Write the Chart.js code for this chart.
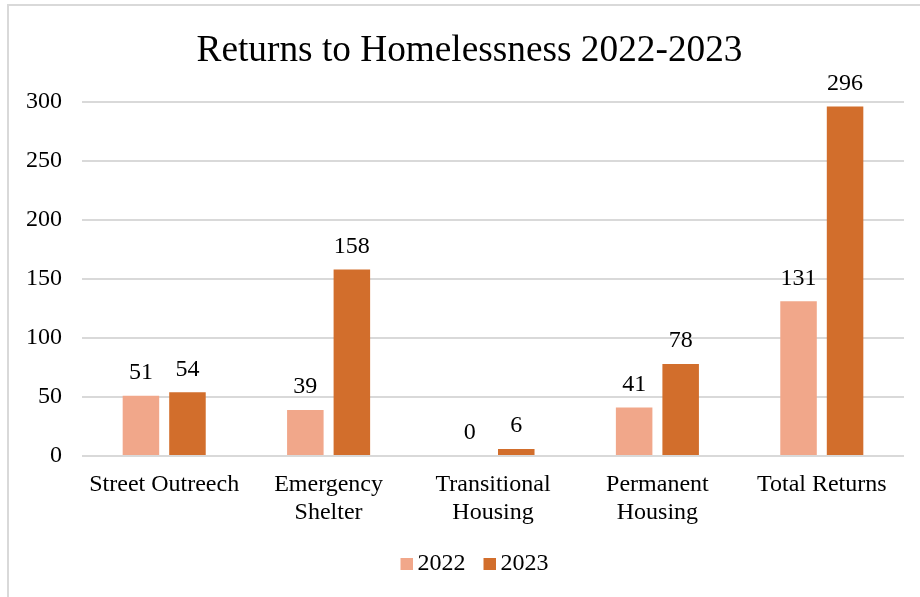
<!DOCTYPE html>
<html>
<head>
<meta charset="utf-8">
<script src="https://cdn.jsdelivr.net/npm/chart.js@4/dist/chart.umd.min.js"></script>
<style>
  html, body { margin: 0; padding: 0; background: #fff; }
  #wrap { position: relative; width: 920px; height: 597px; overflow: hidden; }
  #frame { position: absolute; left: 7px; top: 4px; width: 940px; height: 620px;
           border: 2px solid #D9D9D9; box-sizing: border-box; }
  #c { position: absolute; left: 0; top: 0; }
</style>
</head>
<body>
<div id="wrap">
  <div id="frame"></div>
  <canvas id="c" width="920" height="597"></canvas>
</div>
<script>
const categories = [
  ["Street Outreech"],
  ["Emergency", "Shelter"],
  ["Transitional", "Housing"],
  ["Permanent", "Housing"],
  ["Total Returns"]
];
const seriesNames = ["2022", "2023"];
const values2022 = [51, 39, 0, 41, 131];
const values2023 = [54, 158, 6, 78, 296];
const yTicks = [0, 50, 100, 150, 200, 250, 300];
const seriesColors = ['#F1A78A', '#D26E2C'];

const serif = "'Liberation Serif', 'Times New Roman', serif";

// Legend swatch: a 12px square sitting at the right end of a small canvas,
// so the square ends up close to its label text
function swatch(color) {
  const c = document.createElement('canvas');
  c.width = 29; c.height = 12;
  const g = c.getContext('2d');
  g.fillStyle = color;
  g.fillRect(17, 0, 12, 12);
  return c;
}
const swatches = seriesColors.map(swatch);

// Writes each bar's value just above it
const valueLabels = {
  id: 'valueLabels',
  afterDatasetsDraw(chart) {
    const ctx = chart.ctx;
    ctx.save();
    ctx.font = "24px " + serif;
    ctx.fillStyle = "#000";
    ctx.textAlign = "center";
    ctx.textBaseline = "middle";
    chart.data.datasets.forEach((ds, i) => {
      chart.getDatasetMeta(i).data.forEach((bar, j) => {
        ctx.fillText(String(ds.data[j]), bar.x, bar.y - 23);
      });
    });
    ctx.restore();
  }
};

new Chart(document.getElementById('c'), {
  type: 'bar',
  data: {
    labels: categories,
    datasets: [
      { label: seriesNames[0], data: values2022, backgroundColor: seriesColors[0],
        categoryPercentage: 0.566, barPercentage: 0.785 },
      { label: seriesNames[1], data: values2023, backgroundColor: seriesColors[1],
        categoryPercentage: 0.566, barPercentage: 0.785 }
    ]
  },
  options: {
    responsive: false,
    animation: false,
    layout: { padding: { top: 20, right: 6, bottom: 11, left: 25 } },
    plugins: {
      title: {
        display: true,
        text: 'Returns to Homelessness 2022-2023',
        color: '#000',
        font: { family: serif, size: 37.3, weight: 'normal', lineHeight: 1.2 },
        padding: { top: 9, bottom: 28 }
      },
      legend: {
        position: 'bottom',
        labels: {
          color: '#000',
          font: { family: serif, size: 24 },
          usePointStyle: true,
          pointStyleWidth: 15,
          boxHeight: 12,
          padding: 8,
          generateLabels: chart => chart.data.datasets.map((ds, i) => ({
            text: ds.label,
            fillStyle: seriesColors[i],
            strokeStyle: seriesColors[i],
            lineWidth: 0,
            hidden: !chart.isDatasetVisible(i),
            datasetIndex: i,
            pointStyle: swatches[i],
            fontColor: '#000'
          }))
        }
      },
      tooltip: { enabled: false }
    },
    scales: {
      x: {
        afterFit: s => { s.height = 88; },
        grid: { display: false, drawTicks: false, tickLength: 0 },
        border: { display: false },
        ticks: { color: '#000', font: { family: serif, size: 24, lineHeight: 1.167 },
                 padding: 15, maxRotation: 0, autoSkip: false }
      },
      y: {
        min: 0, max: 300,
        afterBuildTicks: s => { s.ticks = yTicks.map(v => ({ value: v })); },
        afterFit: s => { s.width = 57; },
        grid: { color: '#D9D9D9', lineWidth: 2, drawTicks: false },
        border: { display: false },
        ticks: { color: '#000', font: { family: serif, size: 24 }, padding: 20 }
      },
      // empty right-hand margin strip, keeps title and legend centred on the frame
      yMargin: {
        position: 'right',
        afterFit: s => { s.width = 10; },
        grid: { display: false, drawTicks: false },
        border: { display: false },
        ticks: { display: false }
      }
    }
  },
  plugins: [valueLabels]
});
</script>
</body>
</html>
